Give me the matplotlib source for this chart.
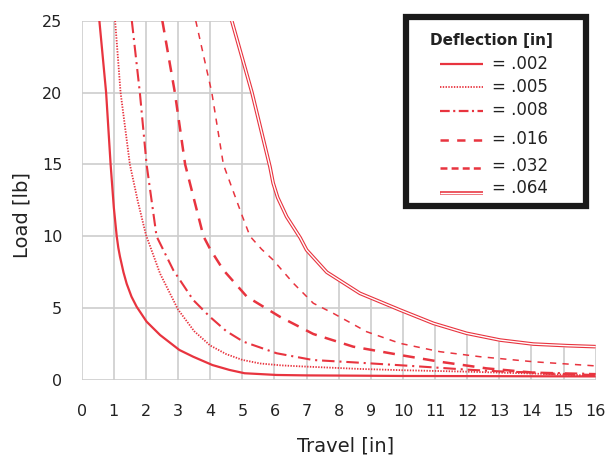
import matplotlib
matplotlib.use("Agg")
import matplotlib.pyplot as plt
from matplotlib.lines import Line2D
from matplotlib.patches import Rectangle

plt.rcParams['font.family'] = ['DejaVu Sans']
plt.rcParams['lines.scale_dashes'] = False

# ---------------- data ----------------
x_002 = [0.55, 0.76, 0.90, 1.00, 1.09, 1.14, 1.19, 1.30, 1.40, 1.55, 1.71, 2.02, 2.44, 3.04, 3.47, 4.07, 4.6, 5.07, 6.07, 7.0, 8.66, 10, 12, 14, 16]
y_002 = [25, 20, 15, 12, 10, 9.2, 8.6, 7.5, 6.7, 5.8, 5.1, 4.06, 3.13, 2.09, 1.62, 1.04, 0.7, 0.47, 0.35, 0.32, 0.30, 0.28, 0.27, 0.26, 0.25]

x_005 = [1.04, 1.21, 1.50, 1.75, 2.0, 2.44, 3.0, 3.5, 4.0, 4.5, 5.0, 5.55, 6.2, 6.8, 8.66, 10, 12, 14, 16]
y_005 = [25, 20, 15, 12.4, 10.1, 7.4, 4.9, 3.4, 2.4, 1.8, 1.4, 1.15, 1.02, 0.95, 0.77, 0.68, 0.58, 0.45, 0.30]

x_008 = [1.56, 1.81, 2.02, 2.33, 2.85, 3.47, 3.99, 4.5, 5.03, 6.07, 7.2, 8.45, 10.32, 12, 13.2, 14.5, 16]
y_008 = [25, 20, 15, 10, 7.65, 5.57, 4.4, 3.4, 2.67, 1.86, 1.39, 1.23, 0.97, 0.72, 0.58, 0.50, 0.42]

x_016 = [2.51, 2.9, 3.22, 3.79, 4.0, 4.41, 5.14, 6.17, 7.21, 8.45, 9.91, 11.15, 12.6, 14.27, 16]
y_016 = [25, 20, 15, 10, 9.1, 7.65, 5.8, 4.4, 3.2, 2.32, 1.74, 1.27, 0.81, 0.47, 0.33]

x_032 = [3.55, 4.05, 4.41, 5.0, 5.24, 5.6, 5.96, 6.59, 7.21, 7.83, 8.87, 9.91, 11.15, 12.4, 14.06, 16]
y_032 = [25, 20, 15, 11.4, 10, 9.1, 8.35, 6.73, 5.34, 4.64, 3.36, 2.55, 1.97, 1.62, 1.27, 0.98]

x_064 = [4.67, 5.3, 5.86, 5.96, 6.1, 6.38, 6.8, 7.0, 7.63, 8.66, 9.91, 10.95, 11.98, 13.02, 14.06, 15.1, 16]
y_064 = [25, 20, 14.84, 13.7, 12.7, 11.36, 9.9, 9.05, 7.5, 6.03, 4.87, 3.94, 3.25, 2.78, 2.5, 2.39, 2.32]

labels = ['= .002', '= .005', '= .008', '= .016', '= .032', '= .064']
legend_title = 'Deflection [in]'
x_ticks = list(range(0, 17))
y_ticks = [0, 5, 10, 15, 20, 25]
x_label = 'Travel [in]'
y_label = 'Load [lb]'

# ---------------- styling ----------------
RED = '#e8343f'
GRID = '#cdcdcd'
TXT = '#222222'
W, H = 605, 462

fig = plt.figure(figsize=(W / 100, H / 100), dpi=100)
ax = fig.add_axes([81.7 / W, 82 / H, 514 / W, 359.3 / H])
ax.set_xlim(0, 16)
ax.set_ylim(0, 25)
for s in ax.spines.values():
    s.set_visible(False)
ax.set_xticks(x_ticks)
ax.set_yticks(y_ticks)
ax.tick_params(length=0, labelsize=11.5, colors=TXT)
ax.tick_params(axis='x', pad=17)
ax.tick_params(axis='y', pad=14)
ax.set_axisbelow(True)
ax.grid(True, color=GRID, linewidth=1.2, zorder=0.5)

# white mask above the .064 curve hides grid there
ax.fill_between(x_064, y_064, 26, color='white', edgecolor='white', linewidth=2,
                zorder=1, clip_on=False)

styles = [
    dict(color=RED, lw=1.6, ls='-'),
    dict(color=RED, lw=1.3, ls=(0, (1.0, 1.0))),
    dict(color=RED, lw=1.5, ls=(0, (9, 3.5, 1.5, 3.5))),
    dict(color=RED, lw=1.8, ls=(0, (8.5, 6))),
    dict(color=RED, lw=1.1, ls=(0, (4.5, 4.5))),
]
series = [(x_002, y_002), (x_005, y_005), (x_008, y_008), (x_016, y_016), (x_032, y_032)]
for (xs, ys), st in zip(series, styles):
    ax.plot(xs, ys, zorder=3, solid_capstyle='butt', dash_capstyle='butt', **st)
ax.plot(x_064, y_064, color=RED, lw=2.6, zorder=3, solid_capstyle='butt')
ax.plot(x_064, y_064, color='white', lw=1.0, zorder=4, solid_capstyle='butt')

ax.set_xlabel(x_label, fontsize=14, color=TXT, va='center')
ax.set_ylabel(y_label, fontsize=14, color=TXT, va='center', ha='center')
ax.xaxis.set_label_coords(0.514, (380 - 446) / 359.3)
ax.yaxis.set_label_coords((22 - 81.7) / 514, (380 - 215) / 359.3)

# ---------------- legend box (manual) ----------------
def fx(px):
    return px / W

def fy(py):
    return 1 - py / H

fig.add_artist(Rectangle((fx(406), fy(206)), fx(586) - fx(406), fy(17) - fy(206),
                         transform=fig.transFigure, facecolor='white',
                         edgecolor='#1a1a1a', linewidth=4.5, zorder=5))
fig.text(fx(491), fy(41), legend_title, ha='center', va='center', fontsize=11,
         fontweight='bold', color=TXT, zorder=6)
row_line = [63.6, 86.8, 110.7, 139.7, 167.7, 193.3]
row_text = [63.6, 86.8, 109.7, 139.0, 166.0, 188.0]
leg_styles = [
    dict(color=RED, lw=1.6, ls='-'),
    dict(color=RED, lw=1.3, ls=(0, (1.0, 1.0))),
    dict(color=RED, lw=1.6, ls=(0, (7, 2.5, 1.5, 2.5))),
    dict(color=RED, lw=1.8, ls=(0, (6, 6))),
    dict(color=RED, lw=1.8, ls=(0, (5, 3))),
    None,
]
for i, lab in enumerate(labels):
    yl = fy(row_line[i])
    if leg_styles[i] is not None:
        fig.add_artist(Line2D([fx(440), fx(483)], [yl, yl], transform=fig.transFigure,
                              zorder=6, solid_capstyle='butt', dash_capstyle='butt',
                              **leg_styles[i]))
    else:
        fig.add_artist(Line2D([fx(440), fx(483)], [yl, yl], transform=fig.transFigure,
                              color=RED, lw=2.6, zorder=6, solid_capstyle='butt'))
        fig.add_artist(Line2D([fx(440), fx(483)], [yl, yl], transform=fig.transFigure,
                              color='white', lw=1.0, zorder=7, solid_capstyle='butt'))
    fig.text(fx(492), fy(row_text[i]), lab, ha='left', va='center', fontsize=12,
             color=TXT, zorder=6)

fig.savefig('out.png', dpi=100)
